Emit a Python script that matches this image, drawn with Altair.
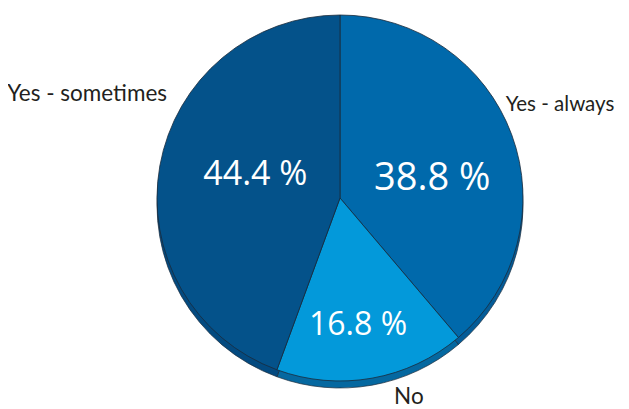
import altair as alt
import pandas as pd

categories = ["Yes - always", "No", "Yes - sometimes"]
percents = [38.8, 16.8, 44.4]
labels = ["38.8 %", "16.8 %", "44.4 %"]

face_colors = ["#0069AB", "#0399DA", "#04528A"]
shadow_colors = ["#045C98", "#0568A0", "#034A80"]

df = pd.DataFrame({"category": categories, "pct": percents, "label": labels})

W, H = 613, 401
CX, CY = 332, 190
R = 183
FONT = "Open Sans"
LABEL_FONT = "Lato"

base = alt.Chart(df).transform_window(idx="row_number()")

theta = alt.Theta("pct:Q", stack=True)
order = alt.Order("idx:Q")

shadow = base.mark_arc(outerRadius=R, stroke="#1b2b3b", strokeWidth=0.7).encode(
    theta=theta,
    order=order,
    color=alt.Color("category:N", scale=alt.Scale(domain=categories, range=shadow_colors), legend=None),
    x=alt.value(CX),
    y=alt.value(CY + 7),
)

face = base.mark_arc(outerRadius=R, stroke="#1b2b3b", strokeWidth=0.8).encode(
    theta=theta,
    order=order,
    fill=alt.Fill("category:N", scale=alt.Scale(domain=categories, range=face_colors), legend=None),
    x=alt.value(CX),
    y=alt.value(CY),
)


def pct_text(cat, radius, size, dx=0, dy=0):
    return base.mark_text(radius=radius, fontSize=size, font=FONT, color="white",
                          dx=dx, dy=dy, baseline="middle", align="center").encode(
        theta=theta, order=order, text="label:N",
        x=alt.value(CX), y=alt.value(CY),
        opacity=alt.condition(alt.datum.category == cat, alt.value(1), alt.value(0)),
    )


def cat_text(cat, radius, align, size=22.5, dx=0, dy=0):
    return base.mark_text(radius=radius, fontSize=size, font=LABEL_FONT, color="#231f20",
                          dx=dx, dy=dy, baseline="middle", align=align).encode(
        theta=theta, order=order, text="category:N",
        x=alt.value(CX), y=alt.value(CY),
        opacity=alt.condition(alt.datum.category == cat, alt.value(1), alt.value(0)),
    )


chart = alt.layer(
    shadow,
    face,
    pct_text("Yes - always", 95, 38, dx=3, dy=14),
    pct_text("No", 126, 32, dx=-4, dy=3),
    pct_text("Yes - sometimes", 89, 34, dx=3, dy=-7),
    cat_text("Yes - always", 200, "left", size=20.5, dx=-22, dy=-24),
    cat_text("No", 205, "center", dx=33, dy=-3),
    cat_text("Yes - sometimes", 200, "right", dx=24, dy=-69),
).resolve_scale(color="independent", fill="independent").properties(
    width=W, height=H, padding=0, autosize="none"
).configure_view(stroke=None)

chart.save("out.html", embed_options={"renderer": "svg", "actions": False})
